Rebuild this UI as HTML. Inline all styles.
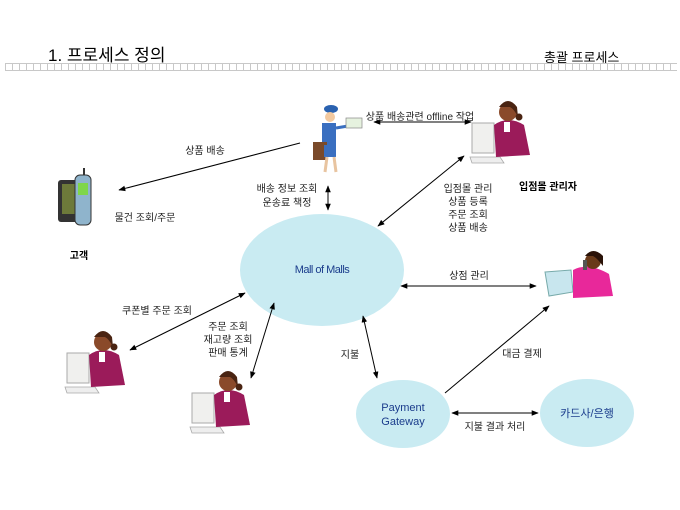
<!DOCTYPE html>
<html><head><meta charset="utf-8"><style>
html,body{margin:0;padding:0;background:#fff;}
svg{display:block;font-family:"Liberation Sans","Noto Sans CJK KR","NanumGothic",sans-serif;}
</style></head><body>
<svg width="680" height="510" viewBox="0 0 680 510" xmlns="http://www.w3.org/2000/svg">
<defs>
<pattern id="grid" x="5" y="63" width="7" height="8" patternUnits="userSpaceOnUse">
<rect x="0.5" y="0.5" width="7" height="7" fill="none" stroke="#c8c8c8" stroke-width="1"/>
</pattern>
<marker id="a" viewBox="0 0 10 10" refX="9" refY="5" markerWidth="7" markerHeight="7" orient="auto-start-reverse">
<path d="M0,1 L10,5 L0,9 z" fill="#000"/></marker>
</defs>
<text x="48" y="61" font-size="17" fill="#000">1. 프로세스 정의</text>
<text x="544" y="62" font-size="13" fill="#000">총괄 프로세스</text>
<rect x="5" y="63" width="672" height="8" fill="url(#grid)"/>

<!-- ellipses -->
<ellipse cx="322" cy="270" rx="82" ry="56" fill="#c9ebf2"/>
<ellipse cx="403" cy="414" rx="47" ry="34" fill="#c9ebf2"/>
<ellipse cx="587" cy="413" rx="47" ry="34" fill="#c9ebf2"/>
<text x="322" y="273" font-size="11" fill="#1a3c8c" text-anchor="middle" letter-spacing="-0.5">Mall of Malls</text>
<text x="403" y="411" font-size="11" fill="#1a3c8c" text-anchor="middle">Payment</text>
<text x="403" y="425" font-size="11" fill="#1a3c8c" text-anchor="middle">Gateway</text>
<text x="587" y="417" font-size="11" fill="#1a3c8c" text-anchor="middle">카드사/은행</text>

<!-- connectors -->
<g stroke="#000" stroke-width="1" fill="none">
<line x1="300" y1="143" x2="119" y2="190" marker-end="url(#a)"/>
<line x1="374" y1="122" x2="471" y2="122" marker-start="url(#a)" marker-end="url(#a)"/>
<line x1="328" y1="186" x2="328" y2="210" marker-start="url(#a)" marker-end="url(#a)"/>
<line x1="464" y1="156" x2="378" y2="226" marker-start="url(#a)" marker-end="url(#a)"/>
<line x1="401" y1="286" x2="536" y2="286" marker-start="url(#a)" marker-end="url(#a)"/>
<line x1="245" y1="293" x2="130" y2="350" marker-start="url(#a)" marker-end="url(#a)"/>
<line x1="274" y1="303" x2="251" y2="378" marker-start="url(#a)" marker-end="url(#a)"/>
<line x1="363" y1="316" x2="377" y2="378" marker-start="url(#a)" marker-end="url(#a)"/>
<line x1="445" y1="393" x2="549" y2="306" marker-end="url(#a)"/>
<line x1="452" y1="413" x2="538" y2="413" marker-start="url(#a)" marker-end="url(#a)"/>
</g>

<!-- labels -->
<g font-size="10" fill="#222" text-anchor="middle">
<text x="420" y="120">상품 배송관련 offline 작업</text>
<text x="205" y="154">상품 배송</text>
<text x="145" y="221">물건 조회/주문</text>
<text x="287" y="192">배송 정보 조회</text>
<text x="287" y="206">운송료 책정</text>
<text x="468" y="192">입점몰 관리</text>
<text x="468" y="205">상품 등록</text>
<text x="468" y="218">주문 조회</text>
<text x="468" y="231">상품 배송</text>
<text x="469" y="279">상점 관리</text>
<text x="157" y="314">쿠폰별 주문 조회</text>
<text x="228" y="330">주문 조회</text>
<text x="228" y="343">재고량 조회</text>
<text x="228" y="356">판매 통계</text>
<text x="350" y="358">지불</text>
<text x="522" y="357">대금 결제</text>
<text x="495" y="430">지불 결과 처리</text>
<text x="548" y="190" font-weight="bold" fill="#000">입점몰 관리자</text>
<text x="79" y="259" font-weight="bold" fill="#000">고객</text>
</g>

<!-- phone -->
<g>
<rect x="58" y="180" width="24" height="42" rx="3" fill="#333"/>
<rect x="62" y="184" width="14" height="30" fill="#6d7a3a"/>
<rect x="75" y="175" width="16" height="50" rx="5" fill="#8fb4cc" stroke="#333" stroke-width="1"/>
<rect x="78" y="183" width="10" height="12" fill="#7fd64a"/>
<line x1="84" y1="175" x2="84" y2="168" stroke="#333" stroke-width="2"/>
</g>

<!-- postman -->
<g>
<ellipse cx="331" cy="109" rx="7" ry="4" fill="#2a62b0"/>
<circle cx="330" cy="117" r="5" fill="#f2c9a0"/>
<rect x="322" y="123" width="14" height="22" fill="#3a6fc0"/>
<rect x="313" y="142" width="14" height="18" fill="#7a4a2a"/>
<rect x="324" y="145" width="12" height="12" fill="#3a6fc0"/>
<line x1="327" y1="157" x2="325" y2="172" stroke="#e8c4a0" stroke-width="3"/>
<line x1="334" y1="157" x2="336" y2="172" stroke="#e8c4a0" stroke-width="3"/>
<line x1="336" y1="128" x2="348" y2="126" stroke="#3a6fc0" stroke-width="3"/>
<rect x="346" y="118" width="16" height="10" fill="#e6f2df" stroke="#888" stroke-width="0.7"/>
</g>

<!-- women figures -->
<g transform="translate(470,95)">
<rect x="2" y="28" width="22" height="30" fill="#f0f0ee" stroke="#aaa" stroke-width="1"/>
<path d="M0,62 L30,62 L34,68 L2,68 z" fill="#eee" stroke="#aaa" stroke-width="0.8"/>
<path d="M24,30 Q38,20 54,30 L60,60 L26,62 z" fill="#9b1b5a"/>
<circle cx="38" cy="17" r="9" fill="#8a4a2a"/>
<path d="M29,12 Q38,0 47,12 L48,22 Q44,14 40,12 z" fill="#4a2412"/>
<circle cx="49" cy="22" r="3.5" fill="#4a2412"/>
<rect x="34" y="27" width="6" height="10" fill="#fff"/>
</g>
<g transform="translate(65,325)">
<rect x="2" y="28" width="22" height="30" fill="#f0f0ee" stroke="#aaa" stroke-width="1"/>
<path d="M0,62 L30,62 L34,68 L2,68 z" fill="#eee" stroke="#aaa" stroke-width="0.8"/>
<path d="M24,30 Q38,20 54,30 L60,60 L26,62 z" fill="#9b1b5a"/>
<circle cx="38" cy="17" r="9" fill="#8a4a2a"/>
<path d="M29,12 Q38,0 47,12 L48,22 Q44,14 40,12 z" fill="#4a2412"/>
<circle cx="49" cy="22" r="3.5" fill="#4a2412"/>
<rect x="34" y="27" width="6" height="10" fill="#fff"/>
</g>
<g transform="translate(190,365)">
<rect x="2" y="28" width="22" height="30" fill="#f0f0ee" stroke="#aaa" stroke-width="1"/>
<path d="M0,62 L30,62 L34,68 L2,68 z" fill="#eee" stroke="#aaa" stroke-width="0.8"/>
<path d="M24,30 Q38,20 54,30 L60,60 L26,62 z" fill="#9b1b5a"/>
<circle cx="38" cy="17" r="9" fill="#8a4a2a"/>
<path d="M29,12 Q38,0 47,12 L48,22 Q44,14 40,12 z" fill="#4a2412"/>
<circle cx="49" cy="22" r="3.5" fill="#4a2412"/>
<rect x="34" y="27" width="6" height="10" fill="#fff"/>
</g>
<!-- pink lady -->
<g transform="translate(543,250)">
<path d="M2,22 L28,20 L30,42 L6,46 z" fill="#c8e6ee" stroke="#7aa" stroke-width="1"/>
<path d="M30,20 Q45,12 66,24 L70,46 L30,48 z" fill="#e8289a"/>
<circle cx="50" cy="11" r="8" fill="#6a3a1a"/>
<path d="M42,6 Q50,-4 60,6 L60,16 Q54,8 50,6 z" fill="#2a1208"/>
<rect x="40" y="10" width="4" height="10" fill="#555"/>
</g>
</svg>
</body></html>
